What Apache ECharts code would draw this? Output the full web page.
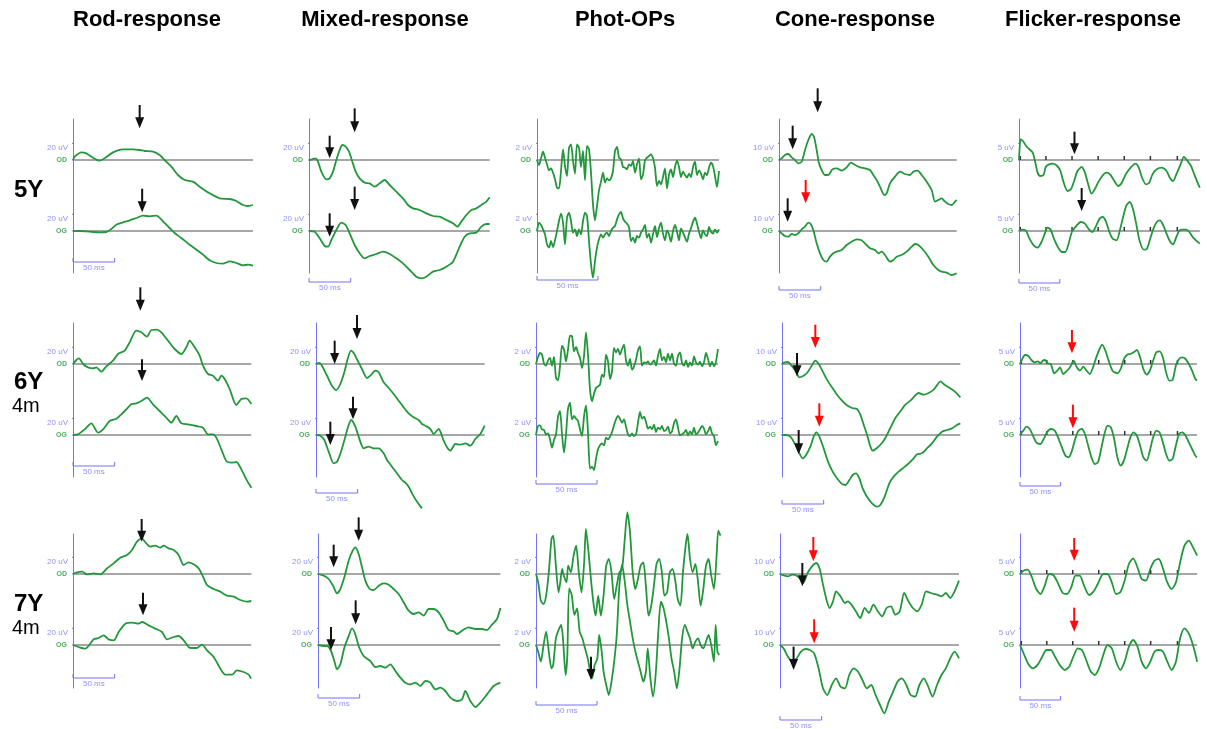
<!DOCTYPE html>
<html><head><meta charset="utf-8">
<script src="https://cdn.jsdelivr.net/npm/echarts@6/dist/echarts.min.js"></script>
<style>html,body{margin:0;padding:0;background:#fff}#c{width:1207px;height:729px}</style>
</head><body><div id="c"></div>
<script>
// ---------- text ----------
const columnTitles = ['Rod-response', 'Mixed-response', 'Phot-OPs', 'Cone-response', 'Flicker-response'];
const rowAges = ['5Y', '6Y', '7Y'];
const rowMonths = ['', '4m', '4m'];
const calLabels = ['20 uV', '20 uV', '2 uV', '10 uV', '5 uV'];
const calValues = [20, 20, 2, 10, 5];
const eyeLabels = ['OD', 'OG'];
const timeBarLabel = '50 ms';
const timeBarMs = 50;
const flickerTickMs = [1.6, 33, 65, 97, 129, 161, 194];

// ---------- traces: [ms, uV] ----------
const rod5Y_OD = [[0,0],[2,4],[10,9.2],[16,8],[24,2.8],[32,-0.8],[38,2],[48,9.2],[60,12.8],[72,12.8],[80,12],[86,10.8],[96,10],[104,6],[110,0],[118,-8],[126,-18],[134,-24],[144,-26],[152,-32],[164,-40],[176,-46],[188,-46.8],[196,-49.2],[204,-54],[210,-55.2],[216,-54]];
const rod5Y_OG = [[0,0],[8,0],[16,-0.4],[24,-1.2],[32,-1.6],[40,-1.2],[46,2.4],[52,7.6],[60,10.4],[68,12.8],[76,15.6],[84,18.4],[92,17.6],[100,18.4],[108,11.6],[116,3.6],[122,-2.4],[130,-8.4],[140,-16.4],[148,-22.4],[156,-28.4],[164,-35.2],[172,-38.4],[180,-39.2],[188,-36.4],[196,-38.4],[204,-41.2],[210,-40.4],[216,-41.6]];
const rod6Y_OD = [[0,0],[4,4.8],[7.2,6.8],[12,0],[18,-4],[24,-5.2],[28,-4],[34,-9.2],[40,-2.8],[48,4],[54,12],[62,16],[68,26],[76,40],[82,38],[88.8,32.8],[94,40.8],[100,41.2],[106,38],[114,28],[122,18],[130,12],[136,20],[140,28],[146,20],[152,10],[156,-2],[162,-12],[168,-14],[174,-20],[178,-14],[182,-18],[188,-30],[196,-49.2],[202,-42],[208,-41.2],[214,-48]];
const rod6Y_OG = [[0,0],[6,0.8],[14,6.8],[22,14],[30,2.8],[36,6.8],[44,16.8],[52,19.6],[58,24.8],[64,30.8],[70,36.8],[76,38],[82,40.8],[88.8,44.8],[96,36.8],[104,28.8],[112,20.8],[118,14.8],[124,22.8],[130,14],[138,12.8],[148,10.8],[156,8.8],[162,0.8],[168,0.8],[172,-3.2],[178,-17.2],[184,-31.2],[190,-33.2],[196,-32.4],[202,-41.2],[208,-53.2],[214,-63.2]];
const rod7Y_OD = [[0,0],[4.8,2],[10.8,2.8],[16.8,-0.4],[24.8,0.8],[32.8,-0.4],[40.8,6.8],[48.8,12.8],[56.8,19.6],[64.8,22.8],[70.8,28.8],[76.8,38.8],[82.8,42.8],[86.8,38],[92.8,32.8],[98.8,34],[104.8,31.6],[108.8,34],[114.8,30.8],[120.8,28.8],[126.8,22.8],[132.8,10.8],[138.8,14],[144.8,11.6],[150.8,6.8],[154.8,-0.4],[160.8,-13.2],[168.8,-18],[176.8,-21.2],[184.8,-26],[192.8,-27.2],[200.8,-31.2],[208.8,-33.2],[214,-32.4]];
const rod7Y_OG = [[0,0],[6.8,-2.4],[14.8,-4.4],[20.8,1.6],[24.8,6.8],[30.8,8.4],[36.8,11.6],[42.8,6.8],[48.8,5.6],[54.8,15.6],[62.8,25.6],[70.8,26.8],[78.8,25.6],[82.8,27.6],[90.8,23.6],[98.8,19.6],[106.8,15.6],[112.8,6.8],[120.8,9.6],[126.8,10.8],[132.8,5.6],[140.8,-3.6],[148.8,-3.6],[154.8,0.4],[160.8,-6.4],[168.8,-14.4],[176.8,-28.4],[182.8,-35.6],[190.8,-35.6],[196.8,-30.4],[204.8,-32.4],[210.8,-35.6],[213.6,-40.4]];

const mix5Y_OD = [[0,0],[4,0.8],[8,2],[10.8,-2],[14.8,-14],[20.8,-23.2],[24.8,-22],[28.8,-14],[32.8,0],[36.8,12],[40,18],[44,16],[48,10],[52,-2],[56,-14],[60.8,-22],[66.8,-27.2],[72.8,-28],[78.8,-32],[84.8,-28],[90.8,-24],[96.8,-30],[104.8,-38],[112.8,-46],[118.8,-54],[124.8,-58],[132.8,-60],[140.8,-64],[148.8,-67.2],[156.8,-68],[164.8,-72],[172.8,-76],[178,-80],[182.8,-74],[188.8,-66],[194.8,-60],[200.8,-58],[206.8,-54],[212.8,-50],[216.8,-44.8]];
const mix5Y_OG = [[0,0],[6.8,-0.8],[12.8,-8.8],[18.8,-18],[22.8,-18.8],[26.8,-10.8],[32.8,1.2],[38.8,10],[44,7.2],[48.8,-2.8],[54.8,-16.8],[60.8,-26.8],[66.8,-32.8],[72.8,-30],[80.8,-27.6],[88.8,-24.8],[96.8,-27.6],[104.8,-32.8],[112.8,-38.8],[120.8,-46.8],[128.8,-54.8],[134.8,-56.8],[140.8,-54.8],[148.8,-48.8],[156.8,-46.8],[164.8,-42.8],[172.8,-36.8],[180.8,-18.8],[186.8,-6.8],[192.8,-2.8],[200.8,-2],[206.8,5.2],[212.8,8.4],[216.8,8.4]];
const mix6Y_OD = [[0,0],[4,1.2],[7.2,-2],[13.2,-14],[19.2,-26],[24.4,-31.2],[29.2,-24],[34,-10],[38,6],[42,16],[46,12],[50,4],[55.2,-6],[61.2,-16.8],[65.2,-14],[71.2,-8],[75.2,-10],[81.2,-22],[87.2,-28.8],[93.2,-36],[99.2,-44],[105.2,-52],[111.2,-59.2],[117.2,-64],[123.2,-67.2],[127.2,-72],[131.2,-74],[137.2,-78],[141.2,-84],[147.2,-78],[153.2,-92],[157.2,-100],[161.2,-104],[167.2,-96],[173.2,-96.8],[179.2,-95.2],[185.2,-98],[191.2,-90],[197.2,-84],[202.4,-74]];
const mix6Y_OG = [[0,0],[5.2,-0.8],[10,-6],[15.2,-20],[21.2,-34],[25.2,-32],[30,-20],[35.2,-2],[39.2,12],[42.4,18],[47.2,10],[51.2,-2],[57.2,-16],[63.2,-14],[69.2,-16],[75.2,-16],[81.2,-22],[85.2,-30],[91.2,-38],[97.2,-46],[103.2,-54],[107.2,-57.2],[111.2,-62],[115.2,-70],[121.2,-80],[127.2,-88]];
const mix7Y_OD = [[0,0],[6.8,-2],[12.8,-6],[18,-14],[22.8,-23.2],[26.8,-18],[31.6,-4],[36.8,16],[41.6,28],[44.8,32],[48.8,24],[52.8,8],[56.8,-8],[62,-18],[66.8,-19.2],[72.8,-14],[78.8,-11.2],[84.8,-12.8],[90.8,-18],[96.8,-24],[102.8,-34],[108.8,-44],[114.8,-48],[120.8,-46],[126.8,-50],[132.8,-42],[138.8,-42],[144.8,-46],[150.8,-56],[156.8,-67.2],[162.8,-68.8],[166.8,-72],[172.8,-68],[180.8,-64],[188.8,-66],[196.8,-66],[202.8,-67.2],[208.8,-60.8],[214.8,-54],[218.8,-40.8]];
const mix7Y_OG = [[0,0],[6.8,-1.2],[10.8,-1.2],[15.6,-7.2],[19.6,-19.2],[22.8,-29.2],[26.8,-23.2],[31.6,-3.2],[36.8,10.8],[40.8,20],[44.8,12.8],[48.8,-1.2],[54.8,-13.2],[62.8,-19.2],[68.8,-26.4],[74.8,-25.2],[80.8,-27.2],[86.8,-23.2],[92.8,-31.2],[98.8,-39.2],[104.8,-45.2],[110.8,-47.2],[116.8,-45.2],[122.8,-49.2],[128.8,-43.2],[134.8,-45.2],[140.8,-53.2],[146.8,-51.2],[152.8,-55.2],[158.8,-63.2],[166.8,-67.2],[172.8,-65.2],[176.8,-55.2],[182.8,-67.2],[188.8,-74.4],[194.8,-69.2],[202.8,-59.2],[210.8,-49.2],[218.8,-45.2]];

// oscillatory potentials sampled every PHOT_DT ms (uV)
const PHOT_DT = 1.64;
const phot5Y_OD = [0,-0.6,0.2,1.0,0.28,-0.52,-1.24,-1.0,-1.52,-2.32,-3.32,-3.4,-1.32,1.28,-0.72,-1.92,1.48,1.88,-0.12,-1.64,1.88,1.48,-0.84,1.08,-2.44,1.68,1.28,-1.52,-5.32,-7.24,-5.52,-3.64,-2.6,-1.52,-2.72,-2.2,-2.44,-2.2,-1.32,1.08,1.56,0.28,0.08,-0.84,-0.92,-1.12,-0.52,-0.72,-0.12,-1.52,-0.52,0.2,-2.32,-1.72,-0.04,0.28,0.48,0.68,0.2,-0.92,-3.12,-2.52,-2.92,-2.04,-1.0,-3.4,-1.8,-1.12,-2.04,-0.84,-0.04,-0.84,-2.04,-1.4,-1.8,-2.12,-1.64,-2.04,-0.84,-0.2,-1.8,-1.24,-1.64,-2.32,-1.52,-1.8,-0.92,-0.32,-0.72,-1.92,-3.24,-1.32];
const phot5Y_OG = [0,1.0,0.72,0.2,-0.4,-1.6,-2.0,-1.2,-1.92,-1.12,0,1.2,2.08,1.0,-1.6,1.6,2.2,1.2,-0.2,0.2,-0.6,0.2,-0.4,1.2,2.2,1.8,-1.2,-4.0,-5.6,-3.6,-2.0,-1.0,-0.4,-0.8,-0.4,-0.2,-0.6,0,0.4,0.6,1.4,2.0,2.28,1.52,1.12,0.88,0.48,-1.2,-0.8,-1.4,-0.6,-0.8,-0.2,0.2,0.72,-0.8,-0.32,-1.4,-0.4,0.6,-0.72,0.32,1.0,-0.32,-1.12,0.08,-0.4,-1.28,0,0.72,-0.08,-1.12,0.32,-0.2,-0.8,-1.28,-0.32,0.32,1.12,1.6,0.88,-0.08,-0.88,0.08,-0.4,-0.6,0.48,-0.08,-0.32,0.2,-0.2,0.2];
const phot6Y_OD = [0,0.84,1.32,1.16,0.04,-0.2,0.44,0.72,-0.2,0.84,-1.68,-1.96,-0.28,2.2,1.72,0.32,1.72,3.4,3.32,1.52,2.04,1.32,0.72,-0.48,0.92,3.8,1.12,-3.08,-4.48,-3.56,-2.88,-2.68,-2.48,-1.28,-1.56,1.12,0.32,-1.8,-0.88,1.92,1.4,1.8,1.12,1.8,2.32,0.44,-0.2,0.6,-0.68,-0.28,0.52,1.64,2.12,-0.2,0.2,0.12,0.32,-0.08,0.12,0.44,-0.2,1.0,1.8,0.44,0.84,0.2,1.24,0.44,1.24,0.04,-0.2,1.0,1.4,0.12,-0.2,0.44,-0.36,0.2,-0.2,0.92,0.2,-0.08,0.28,-0.28,0.2,1.32,0.6,-0.28,0.28,-0.28,0.32,1.8];
const phot6Y_OG = [0,1.08,1.16,0.68,0.6,0.08,0.2,-0.52,-1.52,-0.6,0.08,2.2,2.88,0.08,-2.12,0.08,3.16,3.88,1.88,2.28,1.96,1.68,0.68,-0.12,2.2,3.56,0.28,-4.04,-3.8,-4.2,-2.84,-1.72,-1.24,-1.0,-1.24,-0.32,-0.52,-0.2,0.36,1.16,1.88,2.28,1.96,1.48,1.88,1.0,0.08,-0.12,0.2,-0.12,0.08,1.48,2.76,1.96,2.2,1.56,0.76,1.0,0.68,1.24,0.36,0.88,0.68,1.08,0.48,0.6,1.0,0.2,0.44,1.4,1.88,0.88,-0.04,0.08,0.28,0.6,-0.04,0.44,0.08,0.88,0.08,0.28,0.68,1.08,0.76,0.08,0.44,1.0,0.2,-0.12,-1.24,-0.72];
const phot7Y_OD = [[0,0],[1.8,-1],[4,-3.2],[6.2,-3.6],[8.3,-2.6],[10.5,0.2],[12.7,4.2],[14.1,4.6],[16.3,1],[18.5,-2.2],[19.9,-1],[21.4,0.6],[22.8,-0.2],[25,-1],[26.4,1],[28.6,0.2],[30.8,2.2],[32.9,3.4],[35.1,0.2],[37.3,-2.2],[39.5,1.4],[40.9,5.4],[43.1,2.6],[45.3,-1],[47.4,-3.8],[48.9,-5],[51,-2.6],[53.2,-5],[55.4,-2.6],[57.6,1],[59.7,1.8],[61.9,0.2],[64.1,-3],[66.2,-1.4],[68.4,0.2],[70.6,0.6],[72.8,4.2],[74.9,7.4],[77.1,5],[79.3,0.2],[81.5,-1.8],[83.6,-0.6],[85.8,1],[88,1.4],[90.1,-1.4],[92.3,-5],[94.5,-3.8],[96.7,-1.4],[98.8,1.2],[101,1.8],[103.2,0.2],[105.3,-2.6],[107.5,-2.2],[109.7,0.2],[111.9,0.6],[114,-0.6],[116.2,-3],[118.4,-3.8],[120.5,0.2],[122.7,3.4],[124.2,4.8],[126.3,1.8],[128.5,0.2],[130.7,1.2],[132.9,-1],[135,-3.8],[137.2,-1.8],[139.4,1],[141.5,1.8],[143.7,-0.2],[145.9,-1.8],[148.1,2.2],[149.5,5.2],[151.3,4.6]];
const phot7Y_OG = [[0,0],[1.8,-0.8],[4,-2],[6.2,0],[8.3,1.6],[10.5,-0.8],[12.7,-2.8],[14.1,-2.4],[16.3,0.8],[18.5,1.8],[20.6,2.4],[22.1,0.8],[24.3,-3.6],[25.7,-1.2],[27.2,6.8],[29.3,6],[31.5,3.6],[33.7,4.4],[35.8,1.6],[38,0.8],[40.2,-0.4],[42.4,-1.6],[44.5,-3.2],[46,-4],[48.1,-2.4],[50.3,-1.6],[51.8,1.2],[53.9,-0.8],[55.4,-3.2],[57.6,-4.8],[59.7,-6],[61.9,-4.4],[64.1,-2],[66.2,1.2],[68.4,7.2],[70.6,9.6],[72.8,7.6],[74.9,4.8],[77.1,2.8],[79.3,0.8],[81.5,-0.8],[83.6,-2],[85.8,-3.2],[88,-4.4],[90.1,-3.2],[91.6,-0.4],[93.8,-4],[95.9,-6.2],[98.1,-3.6],[100.3,1.6],[102.4,5.2],[104.6,4.4],[106.8,2.8],[109,0.8],[111.1,-1.6],[113.3,-3.2],[115.5,-5.2],[117.7,-2.8],[119.8,0.8],[122,2.4],[124.2,1.6],[126.3,0.8],[128.5,-0.4],[130.7,0.4],[132.9,0.8],[135,0],[137.2,-0.4],[139.4,0.4],[141.5,1.2],[143.7,0],[145.9,-2],[147.3,2.4],[148.8,-0.8],[150.2,-1.2]];

const cone5Y_OD = [[0,0],[3.2,1],[7.2,3],[11.2,3.6],[15.2,1.6],[19.2,0],[23.2,-2],[27.2,-1],[31.2,6],[35.2,12],[39.2,15.6],[42,14],[45.2,6],[48,-2],[51.2,-6],[55.2,-9],[59.2,-9],[64,-5.6],[69.2,-5],[75.2,-6.4],[81.2,-4.4],[86.4,-1.6],[91.2,-3],[97.2,-4.4],[103.2,-5],[109.2,-6],[113.2,-9],[117.2,-12],[121.2,-16],[126.4,-21],[129.2,-20],[133.2,-14],[139.2,-10],[145.2,-7],[151.2,-8.4],[157.2,-9],[161.2,-7],[166.4,-6.4],[171.2,-9],[177.2,-13],[183.2,-18],[187.2,-25],[191.2,-24],[195.2,-23],[199.2,-25],[203.2,-26.4],[207.2,-27],[211.2,-25],[213.2,-24]];
const cone5Y_OG = [[0,0],[3.2,-1.4],[7.2,-3],[11.2,-3.4],[15.2,-1.8],[19.2,-2.4],[23.2,-1.4],[27.2,1],[31.2,2.6],[35.2,5],[38,4.2],[41.2,0.6],[45.2,-7.4],[49.2,-13.4],[53.2,-17.4],[57.2,-18.4],[61.2,-15.4],[65.2,-13.4],[69.2,-12.4],[75.2,-11.4],[81.2,-8.4],[87.2,-6.4],[93.2,-5],[98.4,-5.4],[103.2,-7.4],[109.2,-10.4],[115.2,-11.4],[119.2,-13.4],[123.2,-12.4],[127.2,-14.4],[133.2,-18.4],[137.2,-17.4],[141.2,-15.4],[147.2,-14.4],[153.2,-12.4],[159.2,-9.4],[163.2,-7.8],[167.2,-8.4],[173.2,-11.4],[179.2,-15.4],[185.2,-20.4],[191.2,-23.4],[195.2,-24.4],[201.2,-25],[207.2,-26.4],[213.2,-25.4]];
const cone6Y_OD = [[0,0],[3.2,1],[7.2,1.2],[11.2,-0.8],[16,-4],[20.8,-8],[24.8,-7.4],[30,-5.4],[35.2,-1.4],[40,2],[44,0],[48.8,-4.4],[54,-9.4],[60,-14],[66,-18.4],[72,-22],[78,-24.8],[84,-26.4],[90,-27],[94,-30.4],[98,-36.4],[102,-42.4],[106,-49.4],[108.8,-52],[114,-50.4],[120,-47.4],[124,-44.4],[130,-38.4],[136,-32.4],[142,-28.4],[148,-24.4],[154,-22],[160,-18.8],[164,-17.4],[170,-18.4],[176,-17.4],[182,-15.4],[186,-12.8],[190,-10.4],[194,-12],[200,-14],[206,-16],[212,-18.8],[214,-20]];
const cone6Y_OG = [[0,0],[4,0],[10,-1],[15.2,-5],[20,-10],[24.8,-14],[28.8,-12],[34,-7],[38,-1],[41.2,1.6],[44.8,-1],[50,-8],[55.2,-16],[60.8,-22],[66,-26],[71.2,-29],[76,-30],[80.8,-27],[84.8,-24],[88.8,-23],[92.8,-26],[96.8,-32],[102,-37],[108,-41],[114,-43],[118,-42],[123.2,-37],[128.8,-29],[134,-25],[140,-22],[146,-19.6],[152,-17],[158,-14],[162,-11.6],[168,-11],[174,-8],[180,-5],[186,-1],[192,2],[198,3],[204,4],[210,6],[214,7]];
const cone7Y_OD = [[0,0],[4.2,-0.8],[9.5,-1.4],[14.7,-0.4],[20,-1],[25.2,-3.4],[27.9,-5.4],[33.1,0.6],[38.4,4.6],[43.7,6.6],[47.9,2.6],[51.6,-6.4],[55.8,-15.4],[59.5,-20.4],[63.6,-16.4],[67.3,-10.4],[72.6,-13.4],[77.9,-17.4],[81.5,-16.4],[85.8,-18.4],[91,-22.4],[96.3,-26.4],[101.6,-20.4],[106.8,-23.4],[112.1,-18.4],[117.4,-22.4],[122.6,-25.4],[127.9,-20.4],[133.2,-19.4],[138.4,-24.4],[143.7,-22.4],[149,-11.4],[154.2,-16.4],[159.5,-20.4],[164.8,-22.4],[170,-18.4],[175.3,-10.4],[180.6,-11.4],[188.5,-12.4],[193.7,-13.4],[199,-11.4],[204.3,-14.4],[209.5,-10.4],[214.8,-4]];
const cone7Y_OG = [[0,0],[4.2,-2],[9.5,-7],[14.7,-10],[20,-8],[25.2,-4],[30.5,-2.4],[35.8,-3],[41,-5],[46.3,-14],[51.6,-26],[56.8,-30],[62.1,-24],[67.3,-20],[72.6,-25],[77.9,-26],[83.1,-18],[88.4,-14],[93.7,-16],[98.9,-21],[104.2,-26],[109.5,-24],[114.7,-30],[120,-36],[125.2,-41],[130.5,-34],[135.8,-28],[141,-22],[146.3,-20],[151.6,-24],[156.8,-30],[162.1,-31],[167.3,-24],[172.6,-20],[177.9,-25],[183.1,-31],[188.4,-24],[193.7,-18],[199,-14],[204.3,-8],[209.5,-4],[214.8,-8]];

const flk5Y_OD = [[0,0],[2,6.2],[4.8,5.7],[8.8,4.2],[12.8,3.2],[16.8,2.2],[19.6,-0.3],[22.8,-3.8],[26,-4.8],[30,-4.5],[32.8,-2.1],[36.8,-1.3],[42,-1.1],[46.8,-1.8],[50.8,-3.3],[54.8,-6.8],[59.6,-9.3],[63.6,-8.8],[67.6,-6.3],[71.6,-3.3],[76.8,-2.1],[80.8,-3.8],[84.8,-7.3],[88.8,-10.1],[92.8,-8.8],[96.8,-6.8],[102,-4.8],[106.8,-3.8],[111.6,-4.3],[116.8,-6.3],[121.6,-7.8],[126,-6.8],[130.8,-4.3],[136.8,-2.3],[142.8,-1.1],[146.8,-2.3],[150.8,-5.3],[155.6,-7.3],[159.6,-6.8],[163.6,-4.3],[168.8,-2.8],[174.8,-2.3],[180.8,-3.3],[184.8,-5.3],[188.8,-6.3],[192.8,-4.3],[198,-1.3],[202,0.9],[206,-0.1],[210.8,-1.8],[214.8,-4.3],[218.8,-6.8],[221.6,-8.3]];
const flk5Y_OG = [[0,0],[4.8,0.4],[8.8,0],[12.8,-2.3],[18,-4.3],[22.8,-5],[27.6,-3.3],[31.6,-0.8],[34.8,1],[38.8,0.4],[42.8,-2.3],[47.6,-4.8],[52.8,-6.3],[56.8,-6.3],[60.8,-3.8],[64.8,-0.3],[70.8,1.7],[75.6,2.7],[80.8,2.2],[86,0.4],[90,-0.3],[94.8,1.7],[98.8,3.7],[102.8,4.2],[106.8,2.7],[110.8,-0.3],[114.8,-2.3],[119.6,-2.8],[123.6,0.2],[127.6,4.2],[131.6,7.7],[135.6,8.7],[139.6,6.7],[143.6,2.2],[147.6,-2.8],[152.8,-5.6],[156.8,-5.3],[160.8,-2.3],[164.8,0.7],[168.8,2.7],[172.8,3.2],[176.8,1.7],[180.8,-0.8],[184.8,-3],[188.8,-4],[192.8,-1.8],[196.8,0.2],[200.8,0.4],[204.8,0.4],[208.8,-0.3],[212.8,-1.8],[216.8,-2.8],[221.6,-3.8]];
const flk6Y_OD = [[0,0],[2.8,1.5],[6,2.7],[10,2.5],[14,1.2],[18,0.5],[22,0.8],[25.2,0.2],[28,1],[30.8,1.2],[34,0.2],[38,0],[42,-2.8],[46,-2],[49.2,-1],[53.2,-3],[58,-2],[62,-0.8],[66,1],[70,-1],[74,-2],[78,-0.8],[82,-2],[86,-3],[90,-1],[94,2],[98,4.5],[101.2,5.8],[105.2,4],[109.2,1],[114,-2],[120,-2.8],[124,-1.5],[128,1.5],[132,2.8],[136,3],[140,3.5],[144,4.2],[148,2],[152,-1.5],[156,-3.2],[160,-2],[164,1],[168,3.5],[172,3.8],[176,2],[180,-2.5],[184,-5],[188,-4.8],[192,-0.5],[196,1.5],[200,2],[204,1.5],[208,0],[212,-2],[216,-4.5],[218,-5]];
const flk6Y_OG = [[0,0],[4,1.3],[8,2.5],[12,1.8],[16,-0.2],[20,-2.2],[25.2,-2.7],[29.2,-1.2],[33.2,0.8],[38,1.8],[42.8,1.3],[46.8,-0.7],[50.8,-3.2],[56,-6.2],[60,-6.7],[64,-4.7],[68,-1.2],[72,1.3],[76,1.8],[80,0.3],[84,-3.2],[88,-6.7],[92,-8.7],[96,-8.2],[100,-4.2],[104,0.3],[108,2.8],[112,2.3],[116,-1.2],[120,-6.7],[124,-9.2],[128,-7.7],[132,-4.2],[136,-0.7],[140,0.8],[144,-0.2],[148,-3.2],[152,-6.7],[156,-7.7],[160,-4.7],[164,-0.7],[168,1.3],[172,0.8],[176,-2.2],[180,-5.7],[184,-7.7],[188,-7.2],[192,-3.2],[196,0.3],[200,0.8],[204,-0.2],[208,-2.2],[212,-4.2],[216,-6.2],[218,-6.7]];
const flk7Y_OD = [[0,0],[4.2,1],[9.5,1.3],[14.7,-1],[20,-4.5],[25.2,-6],[30.5,-3.5],[35.8,0],[41,-0.3],[46.3,-2.5],[52.6,-5.7],[57.9,-6],[63.1,-4],[68.4,-0.5],[73.6,-0.5],[78.9,-3.5],[85.2,-6.3],[90.5,-5.3],[95.8,-3],[102.6,0],[107.9,0],[113.1,-2.5],[118.4,-6],[123.6,-5.5],[128.9,-2],[134.2,3],[139.4,4.7],[144.7,2],[149.9,-1.5],[155.2,-2],[160.5,1.5],[165.7,4],[171,4.5],[176.3,1.5],[181.5,-2.5],[186.8,-4.5],[192.1,-2.5],[197.3,3.5],[202.6,8.5],[207.9,10],[213.1,8],[218.3,5.5]];
const flk7Y_OG = [[0,0],[5.3,-3],[10.5,-5.8],[15.8,-7],[22.1,-5.8],[27.4,-3.5],[32.6,-1.5],[37.9,-1.5],[43.1,-3.5],[48.4,-5.8],[55.2,-7.5],[60.5,-6.5],[65.8,-3.5],[71,-1],[76.3,-1.5],[81.5,-4.5],[86.8,-7.8],[92.1,-9],[97.3,-7],[102.6,-3],[107.9,0],[113.1,-1],[118.4,-5],[123.6,-7.5],[128.9,-5],[134.2,-0.5],[139.4,1.5],[144.7,-0.5],[149.9,-5],[155.2,-7],[160.5,-5],[165.7,-2],[171,-1.5],[176.3,-2],[181.5,-5],[186.8,-7.5],[192.1,-5],[197.3,2],[202.6,5],[207.9,3.5],[213.1,0],[218.3,-5]];

// arrows: [trace (0 = OD, 1 = OG), ms, tail uV, tip uV, colour]
const rod5Y_AR = [[0,80,66,38,'k'],[1,83,50.8,22.4,'k']];
const rod6Y_AR = [[0,80.8,92,64,'k'],[1,82.8,90.8,64.8,'k']];
const rod7Y_AR = [[0,82.4,66,38.8,'k'],[1,84,62.8,35.6,'k']];
const mix5Y_AR = [[0,24.8,29.2,2,'k'],[0,54.8,62,33.2,'k'],[1,24.8,21.2,-6.8,'k'],[1,54.8,53.2,25.2,'k']];
const mix6Y_AR = [[0,22.4,28,0,'k'],[0,49.2,58.8,30,'k'],[1,17.2,16,-12,'k'],[1,44.4,46,18.8,'k']];
const mix7Y_AR = [[0,18.8,35.2,8,'k'],[0,48.8,68,40,'k'],[1,15.6,21.6,-6.4,'k'],[1,45.2,53.6,24.8,'k']];
const phot7Y_AR = [[1,45.1,-1.4,-4.2,'k']];
const cone5Y_AR = [[0,16.4,20.6,6.4,'k'],[0,46.4,43,28.6,'k'],[1,10.4,19.6,5.6,'k'],[1,32,30.6,16.6,'r']];
const cone6Y_AR = [[0,18,6.6,-7.4,'k'],[0,40,23.6,9.6,'r'],[1,20,3,-11.6,'k'],[1,44.8,19,5,'r']];
const cone7Y_AR = [[0,40,22.2,7.6,'r'],[0,26.8,6.6,-7.4,'k'],[1,41,15.4,1,'r'],[1,16.3,-1,-15,'k']];
const flk5Y_AR = [[0,68,8.5,1.7,'k'],[1,76.8,12.9,6,'k']];
const flk6Y_AR = [[0,64,10.2,3.2,'r'],[1,65.2,9.1,2,'r']];
const flk7Y_AR = [[0,66.8,10.8,4,'r'],[1,66.8,11.2,4,'r']];

// ---------- layout (pixels) ----------
const GREEN = '#22973b', GRAY = '#8a8a8a', BLUE = '#7373f5', BLACK = '#111111', RED = '#ff0a0a';
const ROW_LAYOUT = [{top:119,bottom:273,od:160,og:231},{top:323,bottom:477,od:364,og:435},{top:534,bottom:688,od:574,og:645}];
const COL_SCALE = [{ms:1.2,uv:1.2},{ms:1.2,uv:1.2},{ms:0.82,uv:0.12},{ms:1.2,uv:0.6},{ms:1.2,uv:0.3}]; // units per pixel
const AXIS_X = [[73,309,537,779,1019],[73,316,536,782,1020],[73,318,536,780,1020]];
const BAR_Y = [[262,282,280,290,283],[466,493,484,504,486],[678,698,705,720,700]];
const TITLE_X = [147,385,625,855,1093];
const GRID_W = 192;
const HEAD_W = 9, HEAD_H = 11;

const toPairs = arr => arr.map((v, i) => [+(i * PHOT_DT).toFixed(2), v]);
const PANELS = [
  [0,0,rod5Y_OD,rod5Y_OG,rod5Y_AR],[0,1,mix5Y_OD,mix5Y_OG,mix5Y_AR],[0,2,toPairs(phot5Y_OD),toPairs(phot5Y_OG),[]],[0,3,cone5Y_OD,cone5Y_OG,cone5Y_AR],[0,4,flk5Y_OD,flk5Y_OG,flk5Y_AR],
  [1,0,rod6Y_OD,rod6Y_OG,rod6Y_AR],[1,1,mix6Y_OD,mix6Y_OG,mix6Y_AR],[1,2,toPairs(phot6Y_OD),toPairs(phot6Y_OG),[]],[1,3,cone6Y_OD,cone6Y_OG,cone6Y_AR],[1,4,flk6Y_OD,flk6Y_OG,flk6Y_AR],
  [2,0,rod7Y_OD,rod7Y_OG,rod7Y_AR],[2,1,mix7Y_OD,mix7Y_OG,mix7Y_AR],[2,2,phot7Y_OD,phot7Y_OG,phot7Y_AR],[2,3,cone7Y_OD,cone7Y_OG,cone7Y_AR],[2,4,flk7Y_OD,flk7Y_OG,flk7Y_AR]
];

const grids = [], xAxes = [], yAxes = [], series = [];
PANELS.forEach(([row, col, od, og, arrows]) => {
  const L = ROW_LAYOUT[row], S = COL_SCALE[col], ax = AXIS_X[row][col];
  const gi = grids.length;
  grids.push({left: ax, top: L.top, width: GRID_W, height: L.bottom - L.top});
  xAxes.push({gridIndex: gi, type: 'value', min: 0, max: GRID_W * S.ms, show: false});
  yAxes.push({gridIndex: gi, type: 'value', min: -(L.bottom - L.od) * S.uv, max: (L.od - L.top) * S.uv,
    axisLine: {show: true, onZero: false, lineStyle: {color: BLUE, width: 1}},
    axisTick: {show: false}, axisLabel: {show: false}, splitLine: {show: false}});
  const off = -(L.og - L.od) * S.uv;
  const px = S.ms, pv = S.uv;
  const end = od[od.length - 1][0];
  const base = {type: 'line', xAxisIndex: gi, yAxisIndex: gi, symbol: 'none', showSymbol: false, clip: false, silent: true, animation: false};
  const cal = calValues[col];
  [0, off].forEach((b, k) => {
    series.push({...base, z: 1, data: [[0, b], [end, b]], lineStyle: {color: GRAY, width: 1.5}});
    series.push({...base, z: 2, data: [[0, b + cal], [-3 * px, b + cal], [-3 * px, b], [0, b]], lineStyle: {color: BLUE, width: 1}});
    series.push({type: 'scatter', xAxisIndex: gi, yAxisIndex: gi, symbolSize: 0, clip: false, silent: true, animation: false, z: 5,
      data: [
        {value: [-5 * px, b + cal - 4 * pv], label: {show: true, position: 'left', distance: 0, formatter: calLabels[col], color: BLUE, fontSize: 8, fontFamily: 'Liberation Sans'}},
        {value: [-6 * px, b], label: {show: true, position: 'left', distance: 0, formatter: eyeLabels[k], color: GREEN, fontSize: 7, fontWeight: 'bold', fontFamily: 'Liberation Sans'}}
      ]});
    if (col === 4) {
      series.push({type: 'scatter', xAxisIndex: gi, yAxisIndex: gi, symbol: 'rect', symbolSize: [1.5, 4], symbolOffset: [0, -2],
        clip: false, silent: true, animation: false, z: 2, itemStyle: {color: '#333', opacity: 1},
        data: flickerTickMs.map(t => [t, b])});
    }
  });
  series.push({...base, z: 3, data: od, smooth: 0.25, lineStyle: {color: GREEN, width: 1.8}});
  series.push({...base, z: 3, data: og.map(p => [p[0], p[1] + off]), smooth: 0.25, lineStyle: {color: GREEN, width: 1.8}});
  // arrows: shaft + triangular head whose tip sits on the tip value
  arrows.forEach(a => {
    const o = a[0] ? off : 0;
    const c = a[4] === 'r' ? RED : BLACK;
    const tip = a[3] + o, tail = a[2] + o;
    series.push({...base, z: 6, data: [[a[1], tail], [a[1], tip + (HEAD_H - 1) * pv]], lineStyle: {color: c, width: 2}});
    series.push({type: 'scatter', xAxisIndex: gi, yAxisIndex: gi, clip: false, silent: true, animation: false, z: 6,
      symbol: 'triangle', symbolRotate: 180, symbolSize: [HEAD_W, HEAD_H], itemStyle: {color: c, opacity: 1},
      data: [[a[1], tip + HEAD_H / 2 * pv]]});
  });
  const bv = -(BAR_Y[row][col] - L.od) * pv;
  series.push({...base, z: 2, data: [[0, bv + 4 * pv], [0, bv], [timeBarMs, bv], [timeBarMs, bv + 4 * pv]], lineStyle: {color: BLUE, width: 1}});
  series.push({type: 'scatter', xAxisIndex: gi, yAxisIndex: gi, symbolSize: 0, clip: false, silent: true, animation: false,
    data: [{value: [timeBarMs / 2, bv], label: {show: true, position: 'bottom', distance: 2, formatter: timeBarLabel, color: BLUE, fontSize: 8, fontFamily: 'Liberation Sans'}}]});
});

const graphics = [];
columnTitles.forEach((t, i) => graphics.push({type: 'text', x: TITLE_X[i], y: 20,
  style: {text: t, font: 'bold 22px "Liberation Sans", Arial, sans-serif', fill: '#000', align: 'center', verticalAlign: 'middle', textAlign: 'center', textVerticalAlign: 'middle'}}));
const AGE_Y = [190, 382, 604];
rowAges.forEach((t, i) => {
  graphics.push({type: 'text', x: 14, y: AGE_Y[i], style: {text: t, font: 'bold 24px "Liberation Sans", Arial, sans-serif', fill: '#000', align: 'left', verticalAlign: 'middle', textAlign: 'left', textVerticalAlign: 'middle'}});
  if (rowMonths[i]) graphics.push({type: 'text', x: 12, y: AGE_Y[i] + 24, style: {text: rowMonths[i], font: '20px "Liberation Sans", Arial, sans-serif', fill: '#000', align: 'left', verticalAlign: 'middle', textAlign: 'left', textVerticalAlign: 'middle'}});
});

const chart = echarts.init(document.getElementById('c'), null, {renderer: 'canvas'});
chart.setOption({animation: false, backgroundColor: '#fff', grid: grids, xAxis: xAxes, yAxis: yAxes, series: series, graphic: graphics});
</script></body></html>
